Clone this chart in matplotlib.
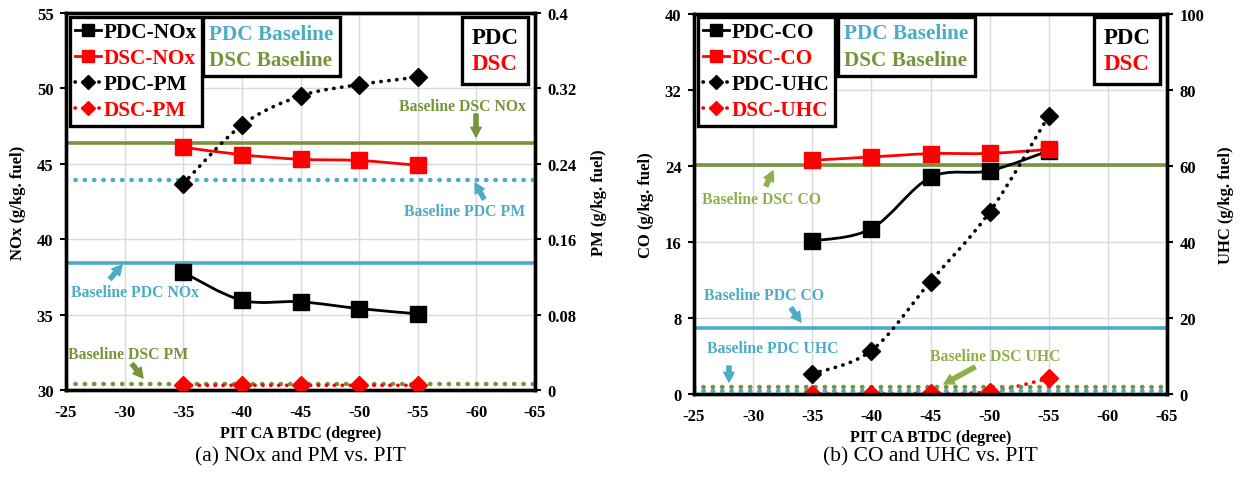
import numpy as np
import matplotlib
matplotlib.use('Agg')
import matplotlib.pyplot as plt
from matplotlib.path import Path
from matplotlib.patches import PathPatch
from matplotlib.lines import Line2D

plt.rcParams['font.family'] = ['Liberation Serif', 'DejaVu Serif']
plt.rcParams['font.weight'] = 'bold'

# data
pit = [-35, -40, -45, -50, -55]

pdc_nox = [37.8, 35.95, 35.85, 35.4, 35.05]
dsc_nox = [46.1, 45.6, 45.3, 45.22, 44.9]
pdc_pm = [0.219, 0.281, 0.312, 0.324, 0.332]
dsc_pm = [0.005, 0.005, 0.005, 0.005, 0.005]
base_dsc_nox = 46.4
base_pdc_nox = 38.4
base_pdc_pm = 0.223
base_dsc_pm = 0.006

pdc_co = [16.1, 17.4, 22.8, 23.5, 25.6]
dsc_co = [24.6, 24.95, 25.3, 25.33, 25.75]
pdc_uhc = [5.3, 11.4, 29.6, 47.9, 73.2]
dsc_uhc = [0.0, 0.0, 0.2, 0.6, 4.1]
base_dsc_co = 24.1
base_pdc_co = 6.9
base_dsc_uhc = 1.9
base_pdc_uhc = 0.85

CYAN = '#4BACC6'
GREEN = '#77933C'
LGREEN = '#8DB04A'
RED = '#FF0000'
DOTS = (0, (0.1, 2.1))


def smooth(ax, x, y, **kw):
    # excel-like smoothed line: cubic bezier through the points
    p = np.column_stack([np.asarray(x, float), np.asarray(y, float)])
    n = len(p)
    verts = [p[0]]
    codes = [Path.MOVETO]
    for i in range(n - 1):
        p0 = p[i - 1] if i > 0 else p[i]
        p3 = p[i + 2] if i + 2 < n else p[i + 1]
        verts += [p[i] + (p[i + 1] - p0) / 6.0, p[i + 1] - (p3 - p[i]) / 6.0, p[i + 1]]
        codes += [Path.CURVE4] * 3
    ax.add_patch(PathPatch(Path(verts, codes), fill=False, **kw))


def series(ax, x, y, color, marker, ms, dotted, z=4):
    if dotted:
        smooth(ax, x, y, edgecolor=color, lw=2.6, linestyle=DOTS, capstyle='round', zorder=z)
    else:
        smooth(ax, x, y, edgecolor=color, lw=2.0, zorder=z)
    ax.plot(x, y, linestyle='none', marker=marker, ms=ms, color=color, zorder=z + 0.5)


def hline(ax, y, color, dotted):
    if dotted:
        ax.axhline(y, color=color, lw=3.2, linestyle=(0, (0.1, 2.0)),
                   dash_capstyle='round', zorder=2)
    else:
        ax.axhline(y, color=color, lw=2.6, zorder=2)


H = 481


def note(ax, text, color, txy, a0, a1, acolor=None):
    # positions in reference pixels (top-left origin)
    ax.text(txy[0], H - txy[1], text, transform=None, color=color, fontsize=11.3,
            fontweight='bold', ha='center', va='center', zorder=8)
    ax.annotate('', xy=(a1[0], H - a1[1]), xytext=(a0[0], H - a0[1]),
                xycoords='figure pixels', textcoords='figure pixels', zorder=8,
                arrowprops=dict(arrowstyle='simple,head_width=0.75,head_length=0.7,tail_width=0.3',
                                color=acolor or color, shrinkA=0, shrinkB=0))


def style(ax1, ax2, yl1, yl2, lab1, lab2):
    ax1.set_xlim(-25, -65)
    ax1.set_xticks(np.arange(-25, -66, -5))
    ax1.set_xticklabels([str(v) for v in range(-25, -66, -5)])
    ax1.set_ylim(*yl1[:2])
    ax1.set_yticks(np.arange(yl1[0], yl1[1] + 1e-9, yl1[2]))
    ax2.set_ylim(*yl2[:2])
    ax2.set_yticks(np.arange(yl2[0], yl2[1] + 1e-9, yl2[2]))
    ax1.grid(True, color='#d9d9d9', lw=1.0)
    ax1.set_axisbelow(True)
    for a in (ax1, ax2):
        for s in a.spines.values():
            s.set_linewidth(2.4)
        a.tick_params(axis='y', length=4, width=1.5, labelsize=12, pad=5)
        a.tick_params(axis='x', length=0, labelsize=12, pad=10)
    ax1.set_ylabel(lab1, fontsize=12, fontweight='bold', labelpad=8)
    ax2.set_ylabel(lab2, fontsize=12, fontweight='bold', labelpad=10)
    ax1.set_xlabel('PIT CA BTDC (degree)', fontsize=11.6, fontweight='bold', labelpad=4)


def legends(ax, names, x2, top):
    h = [Line2D([], [], color='k', lw=2.0, marker='s', ms=8.5),
         Line2D([], [], color=RED, lw=2.0, marker='s', ms=8.5),
         Line2D([], [], color='k', lw=2.6, linestyle=DOTS, dash_capstyle='round', marker='D', ms=7),
         Line2D([], [], color=RED, lw=2.6, linestyle=DOTS, dash_capstyle='round', marker='D', ms=7)]
    lg = ax.legend(h, names, loc='upper left', bbox_to_anchor=(0.0085, top),
                   borderaxespad=0, fancybox=False, edgecolor='k', framealpha=1,
                   labelcolor=['k', RED, 'k', RED], handlelength=1.2, handletextpad=0.12,
                   labelspacing=0.28, borderpad=0.25, prop=dict(size=15.3, weight='bold'))
    lg.get_frame().set_linewidth(2.4)
    lg.set_zorder(10)
    ax.add_artist(lg)
    e = [Line2D([], [], alpha=0), Line2D([], [], alpha=0)]
    lg2 = ax.legend(e, ['PDC Baseline', 'DSC Baseline'], loc='upper left',
                    bbox_to_anchor=(x2, top), borderaxespad=0, fancybox=False,
                    edgecolor='k', framealpha=1, labelcolor=[CYAN, GREEN],
                    handlelength=0, handletextpad=0, labelspacing=0.3, borderpad=0.3,
                    prop=dict(size=15.3, weight='bold'))
    lg2.get_frame().set_linewidth(2.4)
    lg2.set_zorder(10)
    ax.add_artist(lg2)
    lg3 = ax.legend(e, ['PDC', 'DSC'], loc='upper right',
                    bbox_to_anchor=(0.985, top), borderaxespad=0, fancybox=False,
                    edgecolor='k', framealpha=1, labelcolor=['k', RED],
                    handlelength=0, handletextpad=0, labelspacing=0.24, borderpad=0.42,
                    prop=dict(size=16.5, weight='bold'))
    lg3.get_frame().set_linewidth(2.4)
    lg3.set_zorder(10)


fig = plt.figure(figsize=(12.4, 4.81), dpi=100)

# (a) NOx and PM
ax1 = fig.add_axes([66 / 1240, 1 - 391 / H, 469 / 1240, 377 / H])
ax2 = ax1.twinx()
hline(ax1, base_dsc_nox, GREEN, False)
hline(ax1, base_pdc_nox, CYAN, False)
hline(ax2, base_pdc_pm, CYAN, True)
hline(ax2, base_dsc_pm, GREEN, True)
series(ax1, pit, pdc_nox, 'k', 's', 11, False)
series(ax1, pit, dsc_nox, RED, 's', 11, False)
series(ax2, pit, pdc_pm, 'k', 'D', 9, True)
series(ax2, pit, dsc_pm, RED, 'D', 9, True)
style(ax1, ax2, (30, 55, 5), (0, 0.4, 0.08), 'NOx (g/kg. fuel)', 'PM (g/kg. fuel)')
ax2.set_yticklabels(['0', '0.08', '0.16', '0.24', '0.32', '0.4'])
legends(ax2, ['PDC-NOx', 'DSC-NOx', 'PDC-PM', 'DSC-PM'], 0.292, 0.989)

# (b) CO and UHC
ax3 = fig.add_axes([694 / 1240, 1 - 395 / H, 473 / 1240, 380 / H])
ax4 = ax3.twinx()
hline(ax3, base_dsc_co, GREEN, False)
hline(ax3, base_pdc_co, CYAN, False)
hline(ax4, base_dsc_uhc, GREEN, True)
hline(ax4, base_pdc_uhc, CYAN, True)
series(ax3, pit, pdc_co, 'k', 's', 11, False)
series(ax3, pit, dsc_co, RED, 's', 11, False)
series(ax4, pit, pdc_uhc, 'k', 'D', 9, True)
series(ax4, pit, dsc_uhc, RED, 'D', 9, True, z=1.5)
style(ax3, ax4, (0, 40, 8), (0, 100, 20), 'CO (g/kg. fuel)', 'UHC (g/kg. fuel)')
legends(ax4, ['PDC-CO', 'DSC-CO', 'PDC-UHC', 'DSC-UHC'], 0.304, 0.992)

# annotations
note(ax2, 'Baseline DSC NOx', GREEN, (462, 107), (476, 115), (476, 138))
note(ax2, 'Baseline PDC PM', CYAN, (465, 212), (484, 200), (475, 184))
note(ax2, 'Baseline PDC NOx', CYAN, (135, 293), (110, 280), (122, 266))
note(ax2, 'Baseline DSC PM', GREEN, (128, 355), (132, 365), (143, 379))
note(ax4, 'Baseline DSC CO', LGREEN, (761, 200), (766, 187), (773, 172))
note(ax4, 'Baseline PDC CO', CYAN, (764, 296), (791, 309), (801, 323))
note(ax4, 'Baseline PDC UHC', CYAN, (773, 349), (729, 367), (729, 383))
note(ax4, 'Baseline DSC UHC', LGREEN, (995, 357), (975, 368), (944, 385))

fig.text(300 / 1240, 1 - 457 / H, '(a) NOx and PM vs. PIT', ha='center', va='center',
         fontsize=15.5, fontweight='normal')
fig.text(930 / 1240, 1 - 457 / H, '(b) CO and UHC vs. PIT', ha='center', va='center',
         fontsize=15.5, fontweight='normal')

fig.savefig('out.png', dpi=100)
